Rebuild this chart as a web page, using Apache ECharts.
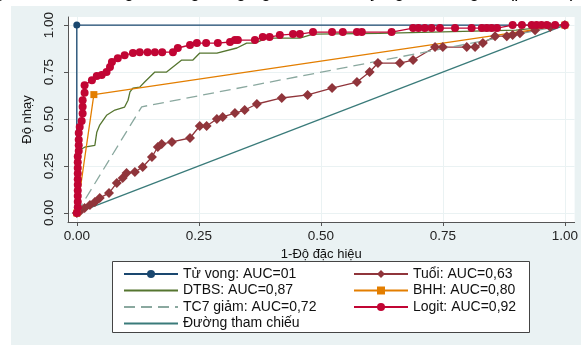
<!DOCTYPE html>
<html>
<head>
<meta charset="utf-8">
<script src="https://cdn.jsdelivr.net/npm/echarts@6/dist/echarts.min.js"></script>
<style>
html, body { margin: 0; padding: 0; background: #fff; }
#chart { width: 581px; height: 345px; }
</style>
</head>
<body>
<div id="chart"></div>
<script>
// ROC: [1-Độ đặc hiệu, Độ nhạy]
const tuVong = [[0, 0], [0, 1], [1, 1]];
const tuoi = [[0, 0], [0.005, 0.005], [0.016, 0.027], [0.027, 0.043], [0.037, 0.059], [0.047, 0.08],
	[0.066, 0.106], [0.082, 0.16], [0.094, 0.186], [0.102, 0.213], [0.119, 0.218], [0.135, 0.245],
	[0.154, 0.298], [0.166, 0.351], [0.174, 0.367], [0.195, 0.378], [0.232, 0.399], [0.252, 0.463],
	[0.266, 0.463], [0.287, 0.5], [0.299, 0.511], [0.324, 0.532], [0.344, 0.548], [0.369, 0.58],
	[0.42, 0.612], [0.473, 0.628], [0.523, 0.665], [0.574, 0.697], [0.6, 0.75], [0.617, 0.798],
	[0.662, 0.798], [0.689, 0.814], [0.734, 0.883], [0.75, 0.883], [0.799, 0.883], [0.816, 0.883],
	[0.832, 0.904], [0.857, 0.941], [0.881, 0.941], [0.893, 0.947], [0.908, 0.957], [0.939, 0.973],
	[0.97, 0.99], [1, 1]];
const dtbs = [[0, 0], [0.006, 0.335], [0.016, 0.35], [0.037, 0.36], [0.041, 0.43], [0.047, 0.468],
	[0.057, 0.505], [0.061, 0.52], [0.078, 0.548], [0.098, 0.564], [0.105, 0.6], [0.109, 0.644],
	[0.115, 0.665], [0.129, 0.67], [0.139, 0.697], [0.16, 0.75], [0.184, 0.75], [0.215, 0.814],
	[0.238, 0.814], [0.252, 0.851], [0.287, 0.851], [0.328, 0.878], [0.348, 0.904], [0.365, 0.904],
	[0.389, 0.931], [0.457, 0.931], [0.484, 0.952], [0.62, 0.956], [0.9, 0.973], [1, 1]];
const bhh = [[0, 0], [0.035, 0.63], [1, 1]];
const tc7 = [[0, 0], [0.133, 0.565], [1, 1]];
const logit = [[0, 0], [0.002, 0.03], [0.002, 0.06], [0.002, 0.09], [0.002, 0.12], [0.002, 0.15],
	[0.002, 0.18], [0.002, 0.21], [0.002, 0.24], [0.002, 0.27], [0.002, 0.3], [0.004, 0.33],
	[0.004, 0.36], [0.004, 0.39], [0.004, 0.425], [0.006, 0.457], [0.01, 0.49], [0.012, 0.53],
	[0.012, 0.565], [0.012, 0.6], [0.016, 0.64], [0.016, 0.68], [0.031, 0.707], [0.041, 0.729],
	[0.051, 0.734], [0.061, 0.75], [0.068, 0.777], [0.072, 0.803], [0.084, 0.824], [0.098, 0.84],
	[0.115, 0.851], [0.129, 0.856], [0.145, 0.856], [0.16, 0.856], [0.175, 0.856], [0.197, 0.856],
	[0.207, 0.878], [0.232, 0.894], [0.246, 0.904], [0.265, 0.904], [0.289, 0.904], [0.314, 0.91],
	[0.324, 0.92], [0.33, 0.92], [0.365, 0.92], [0.381, 0.936], [0.395, 0.936], [0.416, 0.947],
	[0.443, 0.952], [0.457, 0.952], [0.484, 0.963], [0.523, 0.963], [0.545, 0.963], [0.574, 0.963],
	[0.584, 0.963], [0.645, 0.963], [0.689, 0.984], [0.7, 0.984], [0.713, 0.984], [0.727, 0.984],
	[0.744, 0.984], [0.775, 0.984], [0.809, 0.984], [0.83, 0.984], [0.84, 0.984], [0.85, 0.984],
	[0.861, 0.984], [0.893, 1], [0.912, 1], [0.932, 1], [0.942, 1], [0.952, 1], [0.963, 1],
	[0.98, 1], [1, 1]];
const thamChieu = [[0, 0], [1, 1]];
const ticks = [0, 0.25, 0.5, 0.75, 1];

const FONT = '"Liberation Sans", Arial, sans-serif';
const chart = echarts.init(document.getElementById('chart'));

function line(name, data, color, symbol, size, dashed) {
	return {
		name: name,
		type: 'line',
		data: data,
		symbol: symbol,
		symbolSize: size,
		showSymbol: symbol !== 'none',
		lineStyle: { color: color, width: 1.3, type: dashed ? [11, 6] : 'solid' },
		itemStyle: { color: color },
		emphasis: { disabled: true }
	};
}

// chỉ vẽ đường, không có marker trong chú giải
function noMark(name) {
	return { name: name, itemStyle: { opacity: 0 } };
}

const axisCommon = {
	type: 'value',
	axisLine: { onZero: false, lineStyle: { color: '#555', width: 1 } },
	axisTick: { customValues: ticks, length: 4, lineStyle: { color: '#555' } },
	splitLine: { show: true, lineStyle: { color: '#EAF2F3', width: 1 } },
	nameTextStyle: { fontFamily: FONT, fontSize: 13, color: '#111' }
};

const legendCommon = {
	orient: 'vertical', top: 261, itemWidth: 54, itemHeight: 10, itemGap: 0.5,
	textStyle: { fontFamily: FONT, fontSize: 14, color: '#111', lineHeight: 16 },
	selectedMode: false
};

chart.setOption({
	animation: false,
	backgroundColor: '#EAF2F3',
	graphic: [
		{ type: 'rect', shape: { x: 0, y: 0, width: 11, height: 345 }, style: { fill: '#fff' }, z: 1 },
		{ type: 'rect', shape: { x: 0, y: 0, width: 581, height: 6 }, style: { fill: '#fff' }, z: 1 },
		{ type: 'text', x: -2, y: -17, z: 2,
			style: { text: 'yếu tố tiên lượng tử vong trong nghiên cứu có ý nghĩa thống kê (p<0,05).', font: '18px ' + FONT, fill: '#000' } },
		{ type: 'rect', shape: { x: 112.5, y: 261.5, width: 417, height: 71 },
			style: { fill: '#fff', stroke: '#444', lineWidth: 1 }, z: 1 }
	],
	grid: { left: 68, right: 6, top: 17, bottom: 123, show: true, backgroundColor: '#fff', borderWidth: 0 },
	xAxis: Object.assign({}, axisCommon, {
		min: -0.018, max: 1.02,
		name: '1-Độ đặc hiệu', nameLocation: 'middle', nameGap: 19,
		axisLabel: { customValues: ticks, margin: 7, fontFamily: FONT, fontSize: 13.5, color: '#222',
			formatter: v => v.toFixed(2) }
	}),
	yAxis: Object.assign({}, axisCommon, {
		min: -0.048, max: 1.043,
		name: 'Độ nhạy', nameLocation: 'middle', nameGap: 27,
		axisLabel: { customValues: ticks, margin: 12, rotate: 90, fontFamily: FONT, fontSize: 13.5, color: '#222',
			formatter: v => v.toFixed(2) }
	}),
	legend: [
		Object.assign({}, legendCommon, {
			left: 118,
			data: ['Tử vong: AUC=01', noMark('DTBS: AUC=0,87'), noMark('TC7 giảm: AUC=0,72'), noMark('Đường tham chiếu')]
		}),
		Object.assign({}, legendCommon, {
			left: 348,
			data: ['Tuổi: AUC=0,63', 'BHH: AUC=0,80', 'Logit: AUC=0,92']
		})
	],
	series: [
		line('Tử vong: AUC=01', tuVong, '#1A476F', 'circle', 7),
		line('Tuổi: AUC=0,63', tuoi, '#90353B', 'diamond', 10),
		line('DTBS: AUC=0,87', dtbs, '#55752F', 'none', 0),
		line('BHH: AUC=0,80', bhh, '#E37E00', 'rect', 7),
		line('TC7 giảm: AUC=0,72', tc7, '#8AA89F', 'none', 0, true),
		line('Logit: AUC=0,92', logit, '#C10534', 'circle', 8),
		line('Đường tham chiếu', thamChieu, '#3A7B7A', 'none', 0)
	]
});
</script>
</body>
</html>
